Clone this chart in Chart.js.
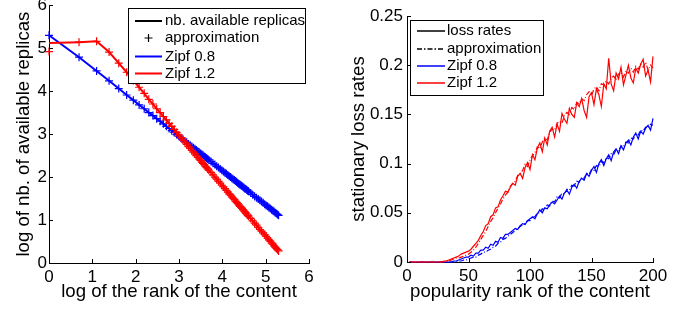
<!DOCTYPE html>
<html>
<head>
<meta charset="utf-8">
<script src="https://cdn.jsdelivr.net/npm/chart.js@4/dist/chart.umd.min.js"></script>
<style>
    body { margin: 0; background: #fff; }
    #replicas { position: absolute; left: 0; top: 0; }
    #loss { position: absolute; left: 350px; top: 0; }
</style>
</head>
<body>
<canvas id="replicas" width="345" height="311"></canvas>
<canvas id="loss" width="343" height="311"></canvas>
<script>
"use strict";

// left panel : log of nb. of available replicas vs rank of the content
const replicaRanks = [1, 2, 3, 4, 5, 6, 7, 8, 9, 10, 11, 12, 13, 14, 15, 16, 17, 18, 19, 20,
    21, 22, 23, 24, 25, 26, 27, 28, 29, 30, 31, 32, 33, 34, 35, 36, 37, 38, 39, 40,
    42, 44, 46, 48, 50, 52, 54, 56, 58, 60, 62, 64, 66, 68, 70, 72, 74, 76, 78, 80,
    82, 84, 86, 88, 90, 92, 94, 96, 98, 100,
    105, 110, 115, 120, 125, 130, 135, 140, 145, 150, 155, 160, 165, 170, 175, 180, 185, 190, 195, 200];
const zipf08Replicas = [5.30, 4.79, 4.47, 4.24, 4.06, 3.91, 3.79, 3.68, 3.59, 3.50,
    3.43, 3.36, 3.30, 3.24, 3.18, 3.13, 3.08, 3.04, 2.99, 2.95,
    2.91, 2.88, 2.84, 2.81, 2.77, 2.74, 2.71, 2.68, 2.66, 2.63,
    2.60, 2.58, 2.55, 2.53, 2.51, 2.48, 2.46, 2.44, 2.42, 2.40,
    2.36, 2.32, 2.29, 2.25, 2.22, 2.19, 2.16, 2.13, 2.10, 2.08,
    2.05, 2.02, 2.00, 1.97, 1.95, 1.93, 1.91, 1.89, 1.86, 1.84,
    1.82, 1.81, 1.79, 1.77, 1.75, 1.73, 1.72, 1.70, 1.68, 1.67,
    1.63, 1.59, 1.55, 1.52, 1.49, 1.46, 1.43, 1.40, 1.37, 1.34,
    1.32, 1.29, 1.27, 1.24, 1.22, 1.20, 1.17, 1.15, 1.13, 1.11];
const zipf08ReplicasApprox = zipf08Replicas; // markers sit on the line
const zipf12Replicas = [5.12, 5.14, 5.16, 4.91, 4.65, 4.44, 4.25, 4.09, 3.95, 3.81,
    3.70, 3.59, 3.50, 3.41, 3.33, 3.25, 3.18, 3.11, 3.04, 2.98,
    2.92, 2.86, 2.81, 2.76, 2.71, 2.67, 2.62, 2.58, 2.54, 2.50,
    2.46, 2.42, 2.39, 2.35, 2.32, 2.29, 2.25, 2.22, 2.19, 2.16,
    2.11, 2.05, 2.00, 1.95, 1.90, 1.86, 1.81, 1.77, 1.73, 1.69,
    1.65, 1.61, 1.58, 1.54, 1.51, 1.48, 1.44, 1.41, 1.38, 1.35,
    1.32, 1.30, 1.27, 1.24, 1.21, 1.19, 1.16, 1.14, 1.11, 1.09,
    1.04, 0.98, 0.93, 0.88, 0.83, 0.78, 0.74, 0.70, 0.66, 0.62,
    0.58, 0.54, 0.51, 0.47, 0.44, 0.40, 0.37, 0.34, 0.31, 0.28];
// approximation equals the simulation except for the most popular content
const zipf12ReplicasApprox = [4.92].concat(zipf12Replicas.slice(1));
const replicaTicks = [0, 1, 2, 3, 4, 5, 6];

// right panel : stationary loss rates vs popularity rank (every 2nd rank)
const lossRanks = Array.from({ length: 100 }, (_, i) => 2 * (i + 1));
const zipf12Loss = [
    0, 0, 0, 0, 0, 0, 0, 0, 0, 0,
    0, 0, 0, 0, 0.001, 0.001, 0.002, 0.003, 0.004, 0.005,
    0.006, 0.008, 0.009, 0.010, 0.011, 0.013, 0.016, 0.019, 0.022, 0.027,
    0.031, 0.037, 0.039, 0.046, 0.048, 0.055, 0.056, 0.063, 0.067, 0.072,
    0.071, 0.076, 0.080, 0.078, 0.087, 0.090, 0.085, 0.096, 0.101, 0.094,
    0.109, 0.104, 0.116, 0.121, 0.112, 0.126, 0.119, 0.133, 0.137, 0.127,
    0.140, 0.133, 0.151, 0.145, 0.141, 0.156, 0.150, 0.147, 0.162, 0.158,
    0.166, 0.154, 0.147, 0.168, 0.172, 0.160, 0.176, 0.170, 0.158, 0.181,
    0.176, 0.207, 0.181, 0.174, 0.192, 0.186, 0.198, 0.180, 0.190, 0.200,
    0.187, 0.182, 0.197, 0.192, 0.201, 0.206, 0.189, 0.195, 0.183, 0.209];
const zipf12LossApprox = [
    0, 0, 0, 0, 0, 0, 0, 0, 0, 0,
    0, 0, 0, 0, 0, 0.001, 0.001, 0.002, 0.003, 0.004,
    0.004, 0.005, 0.006, 0.007, 0.008, 0.010, 0.012, 0.015, 0.019, 0.023,
    0.027, 0.031, 0.036, 0.041, 0.045, 0.050, 0.055, 0.059, 0.064, 0.068,
    0.071, 0.077, 0.080, 0.082, 0.088, 0.090, 0.093, 0.099, 0.097, 0.104,
    0.108, 0.111, 0.117, 0.115, 0.122, 0.126, 0.124, 0.132, 0.135, 0.134,
    0.141, 0.143, 0.141, 0.149, 0.152, 0.150, 0.157, 0.155, 0.162, 0.161,
    0.166, 0.164, 0.170, 0.173, 0.169, 0.176, 0.178, 0.174, 0.181, 0.180,
    0.184, 0.181, 0.187, 0.189, 0.185, 0.191, 0.193, 0.188, 0.194, 0.192,
    0.197, 0.193, 0.199, 0.196, 0.201, 0.198, 0.203, 0.195, 0.200, 0.197];
const zipf08Loss = [
    0, 0, 0, 0, 0, 0, 0, 0, 0, 0,
    0, 0, 0, 0, 0, 0, 0, 0, 0.001, 0.001,
    0.002, 0.003, 0.004, 0.005, 0.005, 0.007, 0.006, 0.009, 0.009, 0.012,
    0.012, 0.015, 0.014, 0.018, 0.017, 0.021, 0.020, 0.025, 0.024, 0.028,
    0.028, 0.030, 0.032, 0.034, 0.033, 0.037, 0.039, 0.038, 0.042, 0.044,
    0.046, 0.044, 0.049, 0.053, 0.050, 0.055, 0.054, 0.058, 0.061, 0.059,
    0.063, 0.067, 0.064, 0.070, 0.073, 0.069, 0.076, 0.079, 0.075, 0.082,
    0.085, 0.083, 0.090, 0.087, 0.093, 0.097, 0.091, 0.100, 0.104, 0.098,
    0.105, 0.109, 0.103, 0.112, 0.115, 0.110, 0.118, 0.114, 0.121, 0.124,
    0.119, 0.127, 0.131, 0.125, 0.133, 0.130, 0.136, 0.139, 0.134, 0.146];
const zipf08LossApprox = [
    0, 0, 0, 0, 0, 0, 0, 0, 0, 0,
    0, 0, 0, 0, 0, 0, 0, 0, 0, 0,
    0.001, 0.001, 0.002, 0.002, 0.003, 0.004, 0.005, 0.005, 0.007, 0.008,
    0.010, 0.010, 0.012, 0.013, 0.015, 0.016, 0.019, 0.020, 0.023, 0.024,
    0.026, 0.028, 0.030, 0.032, 0.034, 0.036, 0.038, 0.039, 0.042, 0.042,
    0.046, 0.046, 0.050, 0.050, 0.054, 0.053, 0.058, 0.057, 0.062, 0.061,
    0.066, 0.065, 0.070, 0.069, 0.074, 0.073, 0.078, 0.077, 0.082, 0.081,
    0.086, 0.085, 0.090, 0.089, 0.094, 0.093, 0.098, 0.097, 0.102, 0.101,
    0.106, 0.105, 0.110, 0.109, 0.114, 0.113, 0.118, 0.117, 0.122, 0.121,
    0.126, 0.125, 0.130, 0.129, 0.134, 0.133, 0.137, 0.136, 0.140, 0.139];

const fontFamily = "'Liberation Sans', Arial, sans-serif";
const BLUE = '#0000ff';
const RED = '#ff0000';

function points(xs, ys) {
    return xs.map((x, i) => ({ x: x, y: ys[i] }));
}

// matlab style ticks, pointing into the plot
const inwardTicks = {
    id: 'inwardTicks',
    afterDraw(chart) {
        const ctx = chart.ctx;
        const area = chart.chartArea;
        const xs = chart.scales.x;
        const ys = chart.scales.y;
        ctx.save();
        ctx.strokeStyle = '#000';
        ctx.lineWidth = 1;
        ctx.beginPath();
        xs.ticks.forEach(t => {
            const px = Math.round(xs.getPixelForValue(t.value)) + 0.5;
            ctx.moveTo(px, area.bottom);
            ctx.lineTo(px, area.bottom - 4);
        });
        ys.ticks.forEach(t => {
            const py = Math.round(ys.getPixelForValue(t.value)) + 0.5;
            ctx.moveTo(area.left, py);
            ctx.lineTo(area.left + 4, py);
        });
        ctx.stroke();
        ctx.restore();
    }
};

// boxed legend drawn over the data
const boxLegend = {
    id: 'boxLegend',
    afterDraw(chart, args, opts) {
        const ctx = chart.ctx;
        const [bx, by, bw, bh] = opts.box;
        ctx.save();
        ctx.fillStyle = '#fff';
        ctx.fillRect(bx, by, bw, bh);
        ctx.strokeStyle = '#000';
        ctx.lineWidth = 1;
        ctx.strokeRect(bx + 0.5, by + 0.5, bw, bh);
        ctx.font = '15px ' + fontFamily;
        ctx.textBaseline = 'middle';
        opts.items.forEach((item, i) => {
            const y = opts.rows[i];
            ctx.strokeStyle = item.color;
            ctx.lineWidth = item.width;
            ctx.setLineDash(item.dash || []);
            ctx.beginPath();
            if (item.marker) {
                const cx = (opts.lineX[0] + opts.lineX[1]) / 2;
                ctx.moveTo(cx - 4, y);
                ctx.lineTo(cx + 4, y);
                ctx.moveTo(cx, y - 4);
                ctx.lineTo(cx, y + 4);
            } else {
                ctx.moveTo(opts.lineX[0], y);
                ctx.lineTo(opts.lineX[1], y);
            }
            ctx.stroke();
            ctx.setLineDash([]);
            ctx.fillStyle = '#000';
            ctx.fillText(item.label, opts.textX, y);
        });
        ctx.restore();
    }
};

function axis(min, max, step, titleText, titlePad, fixedSize, isY, tickPad) {
    return {
        type: 'linear',
        min: min,
        max: max,
        border: { display: true, color: '#000', width: 1 },
        grid: { display: false, drawTicks: false },
        ticks: {
            stepSize: step,
            padding: tickPad,
            color: '#000',
            font: { size: 17, family: fontFamily },
            callback: v => String(+v.toFixed(2))
        },
        title: {
            display: true,
            text: titleText,
            color: '#000',
            font: { size: 18.6, family: fontFamily, lineHeight: 1 },
            padding: titlePad
        },
        afterFit: function(scale) {
            if (isY) scale.width = fixedSize;
            else scale.height = fixedSize;
            scale.paddingTop = 0;
            scale.paddingBottom = 0;
            scale.paddingLeft = 0;
            scale.paddingRight = 0;
        }
    };
}

const baseOptions = {
    responsive: false,
    animation: false,
    devicePixelRatio: 1,
    events: []
};

const replicasCanvas = document.getElementById('replicas');
new Chart(replicasCanvas, {
    type: 'line',
    data: {
        datasets: [
            { label: 'Zipf 1.2 approximation', data: points(replicaRanks.map(Math.log), zipf12ReplicasApprox),
              showLine: false, pointStyle: 'cross', pointRadius: 4, pointBorderWidth: 1.2,
              borderColor: RED, clip: false },
            { label: 'Zipf 1.2', data: points(replicaRanks.map(Math.log), zipf12Replicas),
              borderColor: RED, borderWidth: 2, pointRadius: 0, clip: false },
            { label: 'Zipf 0.8 approximation', data: points(replicaRanks.map(Math.log), zipf08ReplicasApprox),
              showLine: false, pointStyle: 'cross', pointRadius: 4, pointBorderWidth: 1.2,
              borderColor: BLUE, clip: false },
            { label: 'Zipf 0.8', data: points(replicaRanks.map(Math.log), zipf08Replicas),
              borderColor: BLUE, borderWidth: 2, pointRadius: 0, clip: false }
        ]
    },
    options: Object.assign({}, baseOptions, {
        layout: { padding: { top: 5, right: 36, left: 0, bottom: 0 } },
        plugins: {
            legend: { display: false },
            tooltip: { enabled: false },
            boxLegend: {
                box: [128, 8, 177, 75],
                lineX: [135, 162],
                textX: 165,
                rows: [21, 38, 56.5, 73.5],
                items: [
                    { label: 'nb. available replicas', color: '#000', width: 2 },
                    { label: 'approximation', color: '#000', width: 1.2, marker: true },
                    { label: 'Zipf 0.8', color: BLUE, width: 2 },
                    { label: 'Zipf 1.2', color: RED, width: 2 }
                ]
            }
        },
        scales: {
            x: axis(replicaTicks[0], replicaTicks[6], 1, 'log of the rank of the content',
                { top: 0, bottom: 10 }, 48, false, 4),
            y: axis(replicaTicks[0], replicaTicks[6], 1, 'log of nb. of available replicas',
                { top: 14.5, bottom: 0 }, 49, true, 2)
        }
    }),
    plugins: [inwardTicks, boxLegend]
});

const lossCanvas = document.getElementById('loss');
new Chart(lossCanvas, {
    type: 'line',
    data: {
        datasets: [
            { label: 'Zipf 1.2', data: points(lossRanks, zipf12Loss),
              borderColor: RED, borderWidth: 1.2, pointRadius: 0, clip: false },
            { label: 'Zipf 1.2 approximation', data: points(lossRanks, zipf12LossApprox),
              borderColor: RED, borderWidth: 1.2, borderDash: [5, 2, 1, 2], pointRadius: 0, clip: false },
            { label: 'Zipf 0.8', data: points(lossRanks, zipf08Loss),
              borderColor: BLUE, borderWidth: 1.2, pointRadius: 0, clip: false },
            { label: 'Zipf 0.8 approximation', data: points(lossRanks, zipf08LossApprox),
              borderColor: BLUE, borderWidth: 1.2, borderDash: [5, 2, 1, 2], pointRadius: 0, clip: false }
        ]
    },
    options: Object.assign({}, baseOptions, {
        layout: { padding: { top: 16, right: 40, left: 0, bottom: 0 } },
        plugins: {
            legend: { display: false },
            tooltip: { enabled: false },
            boxLegend: {
                box: [60, 20, 133, 75],
                lineX: [67, 95],
                textX: 97,
                rows: [31, 49, 66, 83],
                items: [
                    { label: 'loss rates', color: '#000', width: 1.5 },
                    { label: 'approximation', color: '#000', width: 1.5, dash: [5, 2, 1.5, 2] },
                    { label: 'Zipf 0.8', color: BLUE, width: 1.5 },
                    { label: 'Zipf 1.2', color: RED, width: 1.5 }
                ]
            }
        },
        scales: {
            x: axis(0, 200, 50, 'popularity rank of the content', { top: 0, bottom: 10 }, 49, false, 4),
            y: axis(0, 0.25, 0.05, 'stationary loss rates', { top: 0, bottom: 0 }, 57, true, 4)
        }
    }),
    plugins: [inwardTicks, boxLegend]
});
</script>
</body>
</html>
